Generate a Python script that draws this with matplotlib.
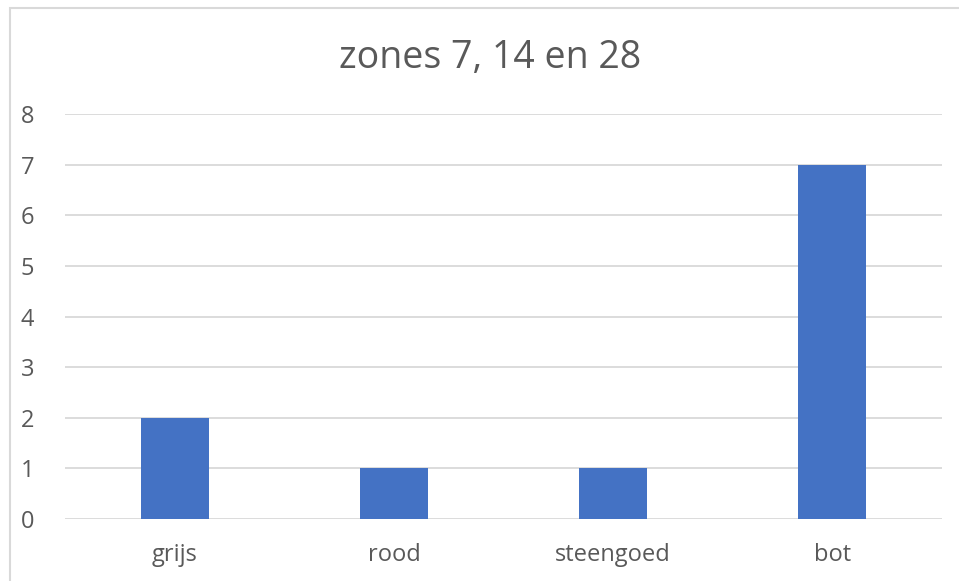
import matplotlib
matplotlib.use('Agg')
import matplotlib.pyplot as plt
from matplotlib.patches import Rectangle

plt.rcParams['font.family'] = ['Open Sans', 'DejaVu Sans']

categories = ['grijs', 'rood', 'steengoed', 'bot']
values = [2, 1, 1, 7]
yticks = [0, 1, 2, 3, 4, 5, 6, 7, 8]

W, H = 959, 581
fig = plt.figure(figsize=(W / 100, H / 100), dpi=100)
fig.patch.set_facecolor('white')

# chart frame (right/bottom edge are cut off in the original)
fig.patches.append(Rectangle((10 / W, -0.05), 1.1, 1 - 8 / H + 0.05,
                             transform=fig.transFigure, fill=False,
                             edgecolor='#d9d9d9', linewidth=1.5))

ax = fig.add_axes([65 / W, 1 - 519 / H, (942 - 65) / W, (519 - 114) / H])
ax.bar(range(len(categories)), values, width=0.31, color='#4472c4', zorder=3)
ax.set_xlim(-0.5, len(categories) - 0.5)
ax.set_ylim(0, 8)
ax.set_yticks(yticks)
ax.set_xticks(range(len(categories)))
ax.set_xticklabels(categories)
ax.grid(axis='y', color='#d9d9d9', linewidth=1.3, zorder=0)
ax.set_axisbelow(True)
for s in ax.spines.values():
    s.set_visible(False)
ax.tick_params(axis='both', length=0, labelsize=17, colors='#595959')
ax.tick_params(axis='y', pad=22)
ax.tick_params(axis='x', pad=17)

fig.text(490 / W, 1 - 58 / H, 'zones 7, 14 en 28', ha='center', va='center',
         fontsize=27, color='#595959')

fig.savefig('out.png', dpi=100)
